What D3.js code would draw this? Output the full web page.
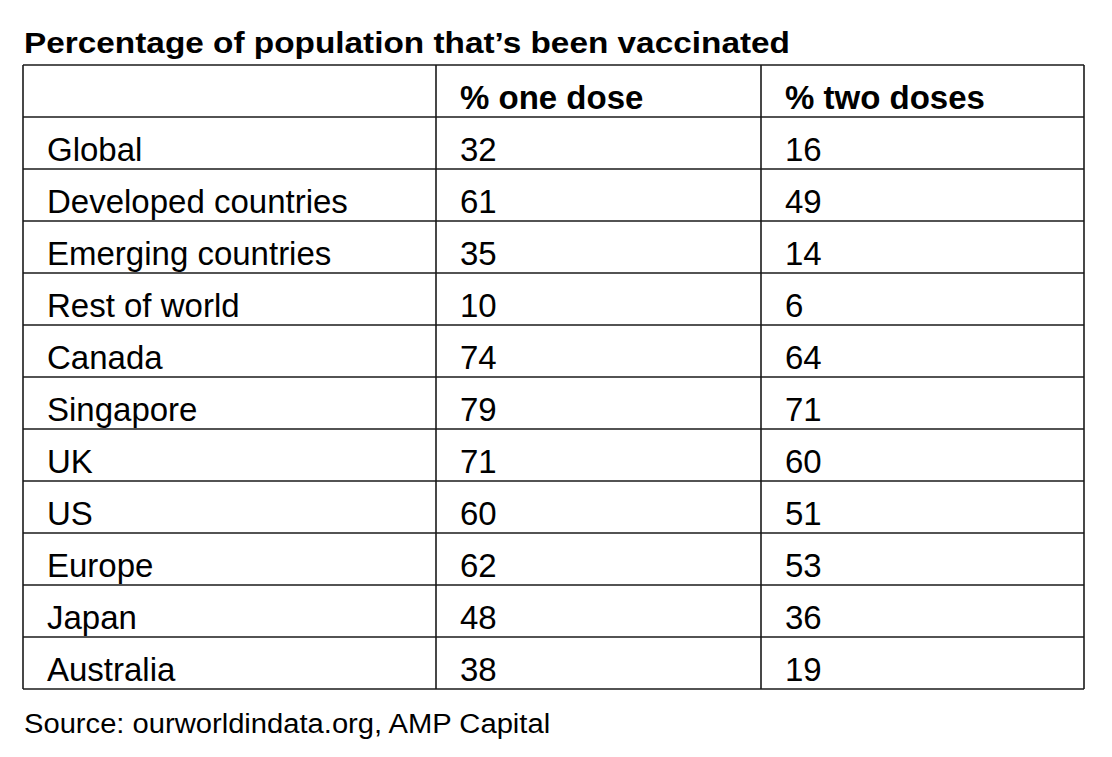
<!DOCTYPE html>
<html>
<head>
<meta charset="utf-8">
<script src="https://d3js.org/d3.v7.min.js"></script>
<style>
  body { margin: 0; background: #fff; }
  text { font-family: "Liberation Sans", Arial, sans-serif; fill: #000; }
</style>
</head>
<body>
<div id="chart"></div>
<script>
// table values
var headers = ["", "% one dose", "% two doses"];
var regions = ["Global", "Developed countries", "Emerging countries", "Rest of world",
  "Canada", "Singapore", "UK", "US", "Europe", "Japan", "Australia"];
var oneDose = [32, 61, 35, 10, 74, 79, 71, 60, 62, 48, 38];
var twoDoses = [16, 49, 14, 6, 64, 71, 60, 51, 53, 36, 19];

var width = 1112, height = 757;
var colEdges = [23, 436, 761, 1084];
var tableTop = 65, tableBottom = 689;

var svg = d3.select("#chart").append("svg")
  .attr("width", width)
  .attr("height", height);

// rows: header + one per region
var rowKeys = d3.range(regions.length + 1);
var y = d3.scaleBand()
  .domain(rowKeys)
  .range([tableTop, tableBottom]);

var rows = [headers].concat(regions.map(function (r, i) {
  return [r, oneDose[i], twoDoses[i]];
}));

// the source picture is slightly stretched sideways
svg.append("text")
  .attr("transform", "translate(24,53) scale(1.15,1)")
  .attr("font-size", 29)
  .attr("font-weight", "bold")
  .text("Percentage of population that\u2019s been vaccinated");

var grid = svg.append("g")
  .attr("stroke", "#1a1a1a")
  .attr("stroke-width", 1.6)
  .attr("fill", "none");

// horizontal rules
grid.selectAll("line.h")
  .data(rowKeys.concat([rowKeys.length]))
  .enter()
  .append("line")
  .attr("class", "h")
  .attr("x1", colEdges[0])
  .attr("x2", colEdges[colEdges.length - 1])
  .attr("y1", function (d) { return d < rowKeys.length ? y(d) : y.range()[1]; })
  .attr("y2", function (d) { return d < rowKeys.length ? y(d) : y.range()[1]; });

// vertical rules
grid.selectAll("line.v")
  .data(colEdges)
  .enter()
  .append("line")
  .attr("class", "v")
  .attr("x1", function (d) { return d; })
  .attr("x2", function (d) { return d; })
  .attr("y1", tableTop)
  .attr("y2", tableBottom);

var row = svg.selectAll("g.row")
  .data(rows)
  .enter()
  .append("g")
  .attr("class", "row")
  .attr("transform", function (d, i) { return "translate(0," + y(i) + ")"; });

row.selectAll("text")
  .data(function (d, i) { return d.map(function (v) { return { v: v, header: i === 0 }; }); })
  .enter()
  .append("text")
  .attr("x", function (d, j) { return colEdges[j] + 24; })
  .attr("y", y.bandwidth() / 2 + 18)
  .attr("font-size", 33)
  .attr("font-weight", function (d) { return d.header ? "bold" : "normal"; })
  .text(function (d) { return d.v; });

svg.append("text")
  .attr("transform", "translate(24,733) scale(1.08,1)")
  .attr("font-size", 27)
  .text("Source: ourworldindata.org, AMP Capital");
</script>
</body>
</html>
